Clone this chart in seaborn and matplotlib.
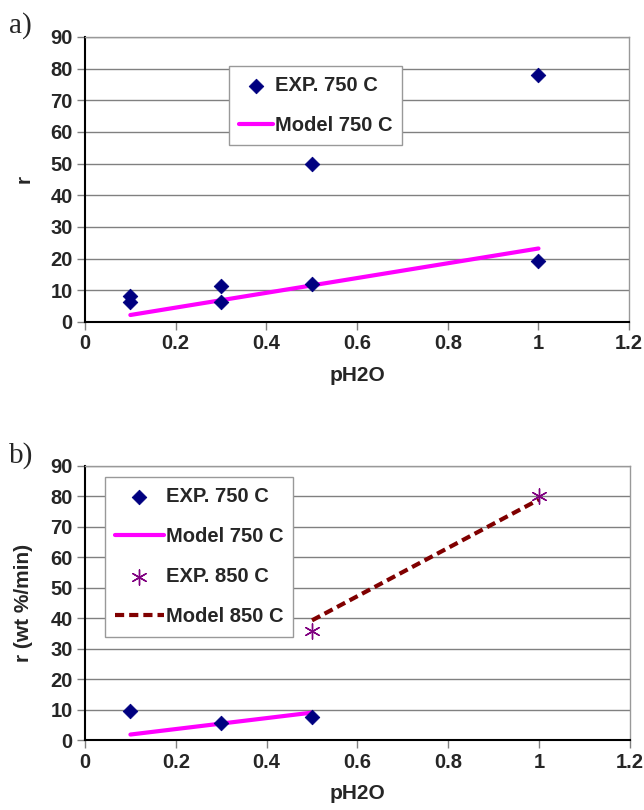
import matplotlib
matplotlib.use("Agg")
import matplotlib.pyplot as plt
import seaborn as sns
import pandas as pd

# Panel a) measured rates at 750 C and model line
exp750_a_x = [0.1, 0.1, 0.3, 0.3, 0.5, 0.5, 1.0, 1.0]
exp750_a_y = [8.2, 6.2, 11.3, 6.3, 50.0, 11.9, 78.0, 19.3]
model750_a_x = [0.1, 1.0]
model750_a_y = [2.2, 23.2]

# Panel b) measured rates at 750 C and 850 C with model lines
exp750_b_x = [0.1, 0.3, 0.5]
exp750_b_y = [9.5, 5.6, 7.6]
model750_b_x = [0.1, 0.5]
model750_b_y = [1.8, 9.0]
exp850_b_x = [0.5, 1.0]
exp850_b_y = [35.7, 80.2]
model850_b_x = [0.5, 1.0]
model850_b_y = [39.3, 79.0]

x_ticks = [0, 0.2, 0.4, 0.6, 0.8, 1.0, 1.2]
x_tick_labels = ["0", "0.2", "0.4", "0.6", "0.8", "1", "1.2"]
y_ticks = [0, 10, 20, 30, 40, 50, 60, 70, 80, 90]

sns.set_style("white")
plt.rcParams["font.family"] = ["Liberation Sans", "DejaVu Sans"]
plt.rcParams["font.weight"] = "bold"

NAVY = "#000080"
MAGENTA = "#FF00FF"
PURPLE = "#800080"
DARKRED = "#800000"
SERIF = ["Liberation Serif", "DejaVu Serif"]

fig = plt.figure(figsize=(6.44, 8.10), dpi=100)
ax_a = fig.add_axes([0.132, 0.6025, 0.845, 0.352])
ax_b = fig.add_axes([0.132, 0.0864, 0.846, 0.3383])


def style_axes(ax, ylabel):
    ax.set_xlim(0, 1.2)
    ax.set_ylim(0, 90)
    ax.set_xticks(x_ticks)
    ax.set_xticklabels(x_tick_labels)
    ax.set_yticks(y_ticks)
    ax.yaxis.grid(True, color="#808080", linewidth=1.0)
    ax.xaxis.grid(False)
    ax.set_axisbelow(True)
    for side in ("top", "right"):
        ax.spines[side].set_color("#999999")
        ax.spines[side].set_linewidth(1.0)
    for side in ("left", "bottom"):
        ax.spines[side].set_color("black")
        ax.spines[side].set_linewidth(1.5)
    ax.tick_params(axis="both", direction="out", length=6, width=1,
                   color="#808080", labelsize=14.5, pad=3,
                   left=True, bottom=True)
    for lab in ax.get_xticklabels() + ax.get_yticklabels():
        lab.set_fontweight("bold")
    ax.set_xlabel("pH2O", fontsize=15, fontweight="bold", labelpad=9)
    ax.set_ylabel(ylabel, fontsize=15, fontweight="bold", labelpad=12)


def style_legend(ax, anchor, handlelength):
    leg = ax.legend(loc="upper left", bbox_to_anchor=anchor,
                    borderaxespad=0, fancybox=False, frameon=True,
                    edgecolor="#999999", framealpha=1, fontsize=14.5,
                    labelspacing=1.05, handlelength=handlelength,
                    handletextpad=0.1, borderpad=0.5)
    leg.get_frame().set_linewidth(1.0)
    for t in leg.get_texts():
        t.set_fontweight("bold")
    return leg


# Panel a
df_exp_a = pd.DataFrame({"x": exp750_a_x, "y": exp750_a_y})
df_mod_a = pd.DataFrame({"x": model750_a_x, "y": model750_a_y})
sns.scatterplot(data=df_exp_a, x="x", y="y", ax=ax_a, marker="D", s=55,
                color=NAVY, edgecolor=NAVY, label="EXP. 750 C", zorder=3)
sns.lineplot(data=df_mod_a, x="x", y="y", ax=ax_a, color=MAGENTA,
             linewidth=3, label="Model 750 C", zorder=2)
style_axes(ax_a, "r")
style_legend(ax_a, (0.265, 0.898), 1.65)

# Panel b
df_exp750_b = pd.DataFrame({"x": exp750_b_x, "y": exp750_b_y})
df_mod750_b = pd.DataFrame({"x": model750_b_x, "y": model750_b_y})
df_exp850_b = pd.DataFrame({"x": exp850_b_x, "y": exp850_b_y})
df_mod850_b = pd.DataFrame({"x": model850_b_x, "y": model850_b_y})
sns.scatterplot(data=df_exp750_b, x="x", y="y", ax=ax_b, marker="D", s=55,
                color=NAVY, edgecolor=NAVY, label="EXP. 750 C", zorder=3)
sns.lineplot(data=df_mod750_b, x="x", y="y", ax=ax_b, color=MAGENTA,
             linewidth=3, label="Model 750 C", zorder=2)
sns.scatterplot(data=df_exp850_b, x="x", y="y", ax=ax_b, marker=(6, 2, 0),
                s=120, color=PURPLE, edgecolor=PURPLE, linewidth=1.0,
                label="EXP. 850 C", zorder=3)
sns.lineplot(data=df_mod850_b, x="x", y="y", ax=ax_b, color=DARKRED,
             linewidth=3, linestyle=(0, (2.2, 1.2)), label="Model 850 C",
             zorder=2)
style_axes(ax_b, "r (wt %/min)")
style_legend(ax_b, (0.037, 0.96), 2.4)

# Panel letters
fig.text(0.014, 0.952, "a)", fontsize=21, family=SERIF,
         fontweight="normal", ha="left", va="bottom")
fig.text(0.014, 0.421, "b)", fontsize=21, family=SERIF,
         fontweight="normal", ha="left", va="bottom")

fig.savefig("out.png", dpi=100)
